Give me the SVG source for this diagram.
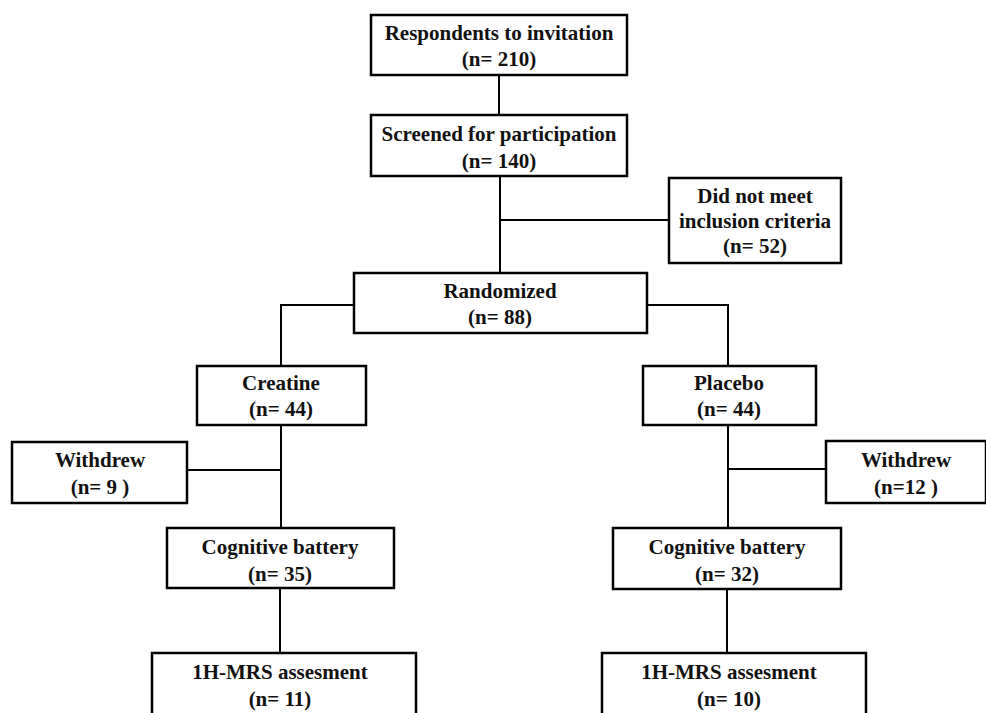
<svg xmlns="http://www.w3.org/2000/svg" width="986" height="713" viewBox="0 0 986 713">
<style>
rect{fill:#fff;stroke:#000;stroke-width:2.5}
text{font-family:"Liberation Serif","Times New Roman",serif;font-weight:bold;font-size:21px;text-anchor:middle;fill:#111}
.c line,.c polyline{stroke:#000;stroke-width:2;fill:none}
</style>
<rect x="0" y="0" width="986" height="713" style="stroke:none"/>
<g class="c" id="connectors">
<line x1="499" y1="75" x2="499" y2="115"/>
<line x1="500" y1="176" x2="500" y2="273"/>
<line x1="500" y1="220" x2="669" y2="220"/>
<polyline points="354,305 281,305 281,366"/>
<polyline points="647,305 728,305 728,366"/>
<line x1="281" y1="425" x2="281" y2="528"/>
<line x1="187" y1="470" x2="281" y2="470"/>
<line x1="728" y1="425" x2="728" y2="528"/>
<line x1="728" y1="469" x2="826" y2="469"/>
<line x1="280" y1="588" x2="280" y2="653"/>
<line x1="727" y1="589" x2="727" y2="653"/>
</g>
<g id="respondents"><rect x="371" y="15" width="256" height="60"/><text x="499" y="40">Respondents to invitation</text><text x="499" y="66">(n= 210)</text></g>
<g id="screened"><rect x="371" y="115" width="256" height="61"/><text x="499" y="141">Screened for participation</text><text x="499" y="168">(n= 140)</text></g>
<g id="excluded"><rect x="669" y="178" width="172" height="85"/><text x="755" y="203">Did not meet</text><text x="755" y="228">inclusion criteria</text><text x="755" y="253">(n= 52)</text></g>
<g id="randomized"><rect x="354" y="273" width="293" height="60"/><text x="500" y="298">Randomized</text><text x="500" y="324">(n= 88)</text></g>
<g id="creatine"><rect x="197" y="366" width="169" height="59"/><text x="281" y="390">Creatine</text><text x="281" y="416">(n= 44)</text></g>
<g id="placebo"><rect x="643" y="366" width="173" height="59"/><text x="729" y="390">Placebo</text><text x="729" y="416">(n= 44)</text></g>
<g id="withdrew-left"><rect x="12" y="442" width="175" height="61"/><text x="100" y="467">Withdrew</text><text x="100" y="494">(n= 9 )</text></g>
<g id="withdrew-right"><rect x="826" y="441" width="160" height="62"/><text x="906" y="467">Withdrew</text><text x="906" y="494">(n=12 )</text></g>
<g id="cognitive-left"><rect x="167" y="528" width="227" height="60"/><text x="280" y="554">Cognitive battery</text><text x="280" y="581">(n= 35)</text></g>
<g id="cognitive-right"><rect x="613" y="528" width="228" height="61"/><text x="727" y="554">Cognitive battery</text><text x="727" y="581">(n= 32)</text></g>
<g id="mrs-left"><rect x="152" y="653" width="264" height="70"/><text x="280" y="679">1H-MRS assesment</text><text x="280" y="706">(n= 11)</text></g>
<g id="mrs-right"><rect x="602" y="653" width="264" height="70"/><text x="729" y="679">1H-MRS assesment</text><text x="729" y="706">(n= 10)</text></g>
</svg>
